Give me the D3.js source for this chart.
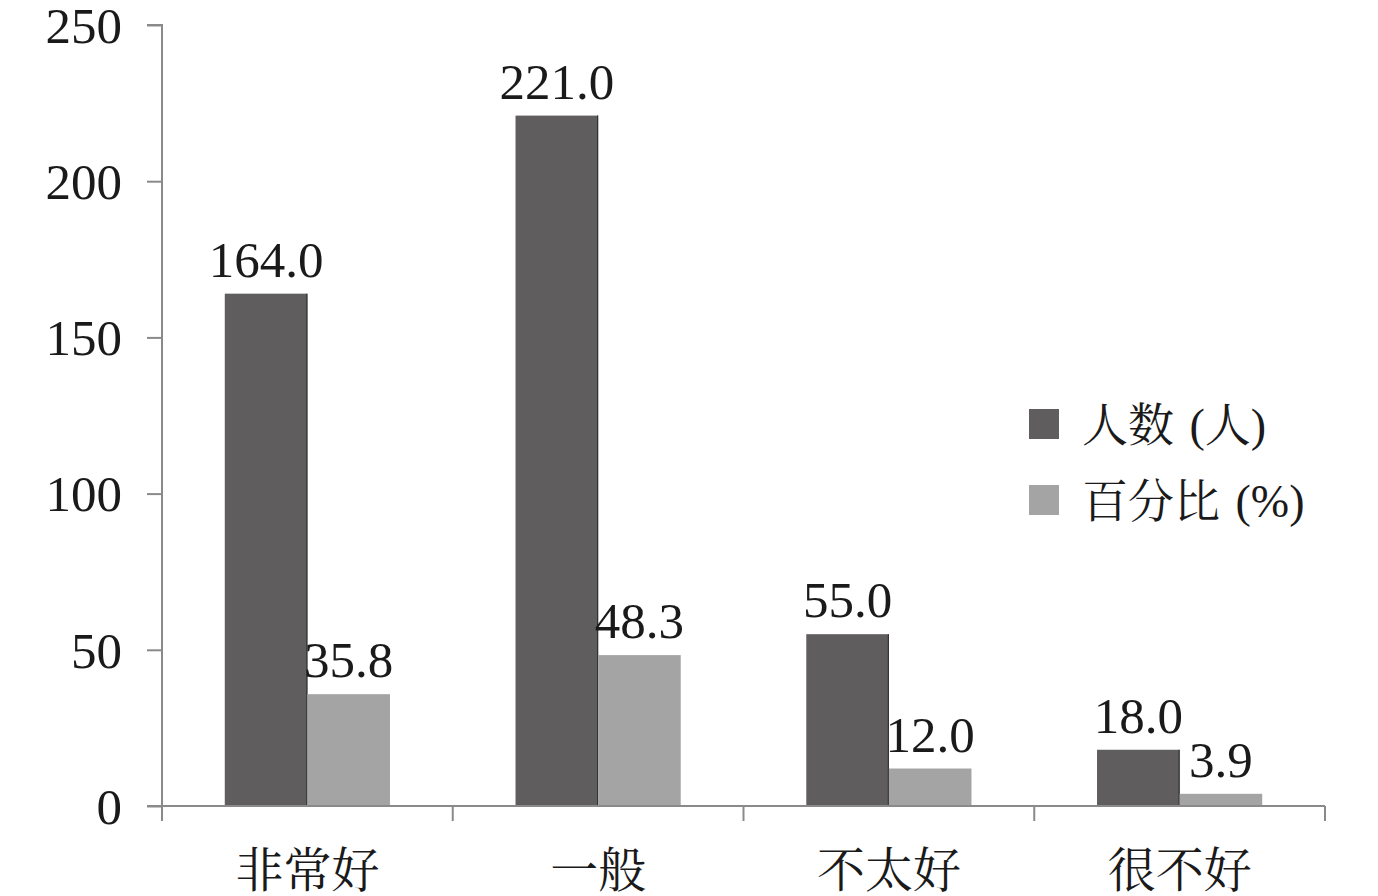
<!DOCTYPE html>
<html><head><meta charset="utf-8">
<script src="https://cdn.jsdelivr.net/npm/d3@7"></script>
<style>body{margin:0;background:#fff}</style>
</head><body>
<svg id="c" width="1378" height="896"></svg>
<script>
const categories = ["非常好","一般","不太好","很不好"];
const seriesNames = ["人数 (人)","百分比 (%)"];
const counts = [164.0, 221.0, 55.0, 18.0];
const percents = [35.8, 48.3, 12.0, 3.9];
const yTicks = [0,50,100,150,200,250];
const colors = ["#5f5d5e","#a4a4a4"];

(function(){
const svg = d3.select("#c");
const mLeft = 162, mRight = 1325, mTop = 25, mBottom = 806;
const numFont = "'Liberation Serif','Times New Roman',serif";
const cjkFont = "'Liberation Serif','Noto Serif CJK SC','Noto Sans CJK SC',serif";

const x = d3.scaleBand().domain(categories).range([mLeft, mRight]).paddingInner(0).paddingOuter(0);
const x1 = d3.scaleBand().domain([0,1]).range([0, x.bandwidth()]).paddingOuter(0.76).paddingInner(0);
const y = d3.scaleLinear().domain([0,250]).range([mBottom, mTop]);

const series = [counts, percents];

series.forEach((vals, si) => {
  svg.append("g").selectAll("rect").data(vals).join("rect")
    .attr("x", (d,i) => x(categories[i]) + x1(si))
    .attr("width", x1.bandwidth())
    .attr("y", d => y(d))
    .attr("height", d => y(0) - y(d))
    .attr("fill", colors[si]);
  if (si === 0) {
    svg.append("g").selectAll("line").data(vals).join("line")
      .attr("x1", (d,i) => x(categories[i]) + x1(si) + x1.bandwidth() - 0.5)
      .attr("x2", (d,i) => x(categories[i]) + x1(si) + x1.bandwidth() - 0.5)
      .attr("y1", d => y(d)).attr("y2", y(0))
      .attr("stroke", "#333").attr("stroke-width", 1.2);
  }
  svg.append("g").selectAll("text").data(vals).join("text")
    .attr("x", (d,i) => x(categories[i]) + x1(si) + x1.bandwidth()/2)
    .attr("y", d => y(d) - 17)
    .attr("text-anchor", "middle")
    .attr("font-family", numFont).attr("font-size", 51).attr("fill", "#1a1a1a")
    .text(d => d.toFixed(1));
});

const yAxis = d3.axisLeft(y).tickValues(yTicks).tickSize(15).tickPadding(25).tickFormat(d3.format("d"));
const gy = svg.append("g").attr("transform", `translate(${mLeft},0)`).call(yAxis);
gy.select(".domain").attr("stroke", "#8a8a8a").attr("stroke-width", 2).attr("d", `M-15,${mTop}H0V${mBottom}`);
gy.selectAll(".tick line").attr("stroke", "#8a8a8a").attr("stroke-width", 2);
gy.selectAll(".tick text").attr("font-family", numFont).attr("font-size", 51).attr("fill", "#1a1a1a").attr("dy", "0.34em");

const xAxis = d3.axisBottom(x).tickSize(0).tickPadding(0);
const gx = svg.append("g").attr("transform", `translate(0,${mBottom})`).call(xAxis);
gx.select(".domain").attr("stroke", "#8a8a8a").attr("stroke-width", 2).attr("d", `M${mLeft-15},0H${mRight}`);
gx.selectAll(".tick text").attr("font-family", cjkFont).attr("font-size", 48).attr("fill", "#1a1a1a")
  .attr("y", 81).attr("dy", 0);
const edges = categories.map(c => x(c)).concat([mRight]);
gx.append("g").selectAll("line").data(edges).join("line")
  .attr("x1", d => d).attr("x2", d => d).attr("y1", 0).attr("y2", 15)
  .attr("stroke", "#8a8a8a").attr("stroke-width", 2);

const lg = svg.append("g").attr("transform", "translate(1029,409)");
seriesNames.forEach((name, i) => {
  const g = lg.append("g").attr("transform", `translate(0,${i*76})`);
  g.append("rect").attr("width", 30).attr("height", 30).attr("fill", colors[i]);
  g.append("text").attr("x", 53).attr("y", 15).attr("dy", "0.36em")
    .attr("font-family", cjkFont).attr("font-size", 46).attr("fill", "#1a1a1a")
    .attr("word-spacing", 4).text(name);
});
})();
</script>
</body></html>
